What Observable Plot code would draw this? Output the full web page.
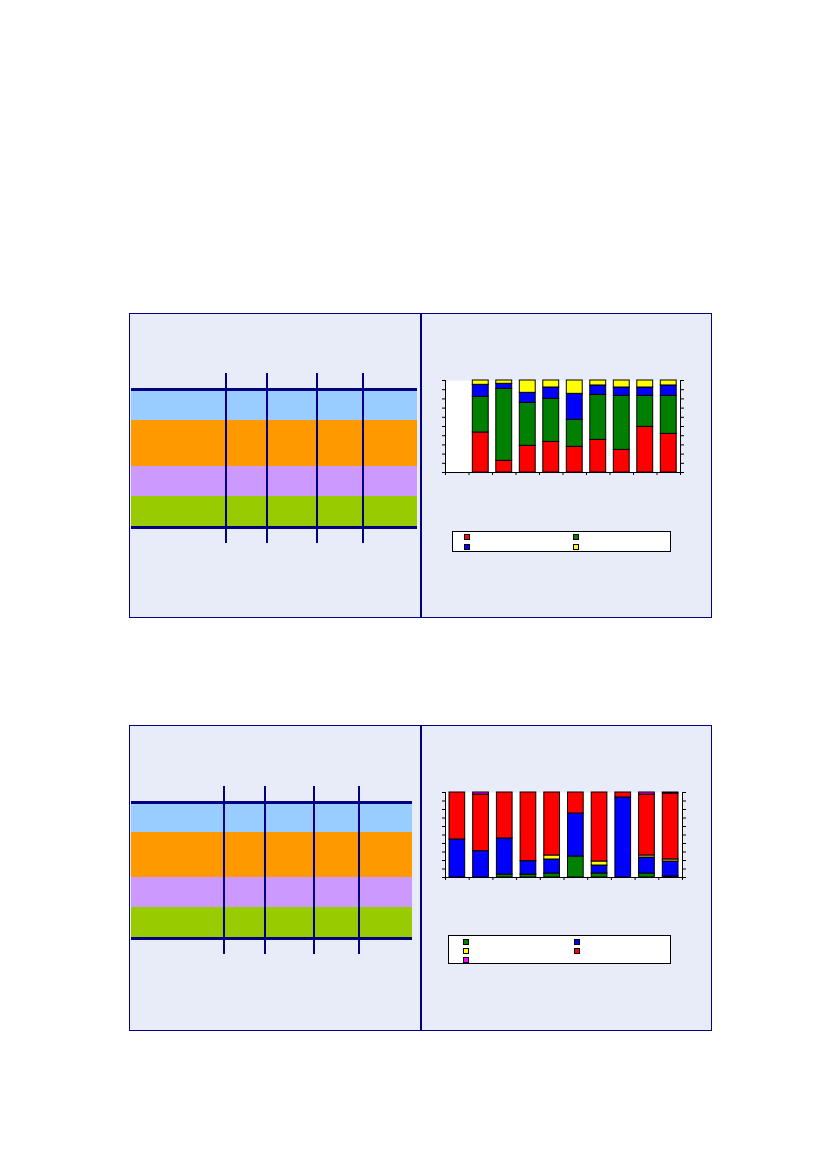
<!DOCTYPE html>
<html>
<head>
<meta charset="utf-8">
<script src="https://cdn.jsdelivr.net/npm/d3@7"></script>
<script src="https://cdn.jsdelivr.net/npm/@observablehq/plot@0.6"></script>
<style>
  html, body { margin: 0; padding: 0; background: #ffffff; overflow: hidden; }
  #page { position: relative; width: 826px; height: 1169px; background: #ffffff; font-family: "Liberation Sans", Arial, sans-serif; }
  .panel { position: absolute; box-sizing: border-box; border: 1.6px solid #000080; background: #E8EBF8; }
  .divider { position: absolute; width: 1.6px; background: #000080; }
  table.tbl { position: absolute; border-collapse: collapse; table-layout: fixed; }
  table.tbl td { padding: 0; }
  table.tbl td + td { border-left: 2.5px solid #000080; }
  table.tbl tr.first td { border-top: 3px solid #000080; }
  table.tbl tr.last td { border-bottom: 3px solid #000080; }
  .chart { position: absolute; }
  .chart svg { display: block; background: none; }
  .legend { position: absolute; box-sizing: border-box; border: 1px solid #000000; background: #ffffff; }
  .sw { position: absolute; box-sizing: border-box; width: 6px; height: 6px; border: 1px solid #000000; }
</style>
</head>
<body>
<div id="page">
  <div class="panel" style="left:129px;top:313px;width:583px;height:305px;"></div>
  <div class="divider" style="left:420px;top:313px;height:305px;"></div>
  <div class="panel" style="left:129px;top:725px;width:583px;height:306px;"></div>
  <div class="divider" style="left:420px;top:725px;height:306px;"></div>

  <table class="tbl" style="left:131px;top:373px;width:286px;">
    <colgroup><col style="width:95px"><col style="width:41px"><col style="width:50px"><col style="width:46px"><col style="width:54px"></colgroup>
    <tr style="height:16px"><td></td><td></td><td></td><td></td><td></td></tr>
    <tr class="first" style="height:31px;background:#99CCFF"><td></td><td></td><td></td><td></td><td></td></tr>
    <tr style="height:46px;background:#FF9900"><td></td><td></td><td></td><td></td><td></td></tr>
    <tr style="height:30px;background:#CC99FF"><td></td><td></td><td></td><td></td><td></td></tr>
    <tr class="last" style="height:31px;background:#99CC00"><td></td><td></td><td></td><td></td><td></td></tr>
    <tr style="height:16px"><td></td><td></td><td></td><td></td><td></td></tr>
  </table>

  <table class="tbl" style="left:131px;top:786px;width:281px;">
    <colgroup><col style="width:93px"><col style="width:41px"><col style="width:49px"><col style="width:45px"><col style="width:53px"></colgroup>
    <tr style="height:16px"><td></td><td></td><td></td><td></td><td></td></tr>
    <tr class="first" style="height:30px;background:#99CCFF"><td></td><td></td><td></td><td></td><td></td></tr>
    <tr style="height:45px;background:#FF9900"><td></td><td></td><td></td><td></td><td></td></tr>
    <tr style="height:30px;background:#CC99FF"><td></td><td></td><td></td><td></td><td></td></tr>
    <tr class="last" style="height:31px;background:#99CC00"><td></td><td></td><td></td><td></td><td></td></tr>
    <tr style="height:16px"><td></td><td></td><td></td><td></td><td></td></tr>
  </table>

  <div id="chart1" class="chart" style="left:437px;top:378px;"></div>
  <div id="chart2" class="chart" style="left:437px;top:790px;"></div>
  <div id="legend1" class="legend" style="left:452px;top:531px;width:219px;height:21px;"></div>
  <div id="legend2" class="legend" style="left:448px;top:935px;width:223px;height:29px;"></div>
</div>
<script>
// ---- Chart 1 data (percent shares, stacked bottom -> top) ----
const categories1 = ["1", "2", "3", "4", "5", "6", "7", "8", "9", "10"];
const seriesNames1 = ["Série 1", "Série 2", "Série 3", "Série 4"];
const seriesColors1 = ["#FF0000", "#008000", "#0000FF", "#FFFF00"];
const red1    = [0, 43.5, 12.7, 29.0, 33.3, 27.9, 35.5, 24.6, 49.6, 42.0];
const green1  = [0, 38.7, 78.2, 46.7, 46.8, 29.3, 48.9, 58.7, 33.7, 41.3];
const blue1   = [0, 13.1,  5.5, 10.9, 12.3, 28.3, 10.2,  9.1,  9.1, 11.3];
const yellow1 = [0,  4.7,  3.6, 13.4,  7.6, 14.5,  5.4,  7.6,  7.6,  5.4];

// ---- Chart 2 data ----
const categories2 = ["1", "2", "3", "4", "5", "6", "7", "8", "9", "10"];
const seriesNames2 = ["Série A", "Série B", "Série C", "Série D", "Série E"];
const seriesColors2 = ["#008000", "#0000FF", "#FFFF00", "#FF0000", "#FF00FF"];
const green2   = [0,    0,    3.5,  3.5,  4.7, 24.7,  4.7,  0,    4.7,  1.2];
const blue2    = [44.7, 31.0, 42.4, 15.7, 16.5, 50.6,  9.4, 94.1, 18.8, 17.6];
const yellow2  = [0,    0,    0,    0,    4.7,  0,     4.7,  0,    2.4,  2.4];
const red2     = [55.3, 66.6, 54.1, 80.8, 74.1, 24.7, 81.2,  5.9, 71.7, 77.6];
const magenta2 = [0,    2.4,  0,    0,    0,    0,     0,    0,    2.4,  1.2];

const yTicks = d3.range(0, 101, 10);

function stackRows(categories, names, valueArrays) {
  const rows = [];
  categories.forEach((c, i) => {
    let base = 0;
    names.forEach((name, k) => {
      const v = valueArrays[k][i];
      if (v > 0) {
        rows.push({cat: c, i, name, y1: base, y2: base + v});
        base += v;
      }
    });
  });
  return rows;
}

function stackedChart(categories, names, colors, valueArrays, plotW, plotH, inset) {
  const n = categories.length;
  const rows = stackRows(categories, names, valueArrays);
  const m = {top: 2, right: 8, bottom: 8, left: 8};
  return Plot.plot({
    width: plotW + m.left + m.right,
    height: plotH + m.top + m.bottom,
    marginTop: m.top, marginRight: m.right, marginBottom: m.bottom, marginLeft: m.left,
    style: {background: "none", color: "black", overflow: "visible"},
    x: {domain: [0, n]},
    y: {domain: [0, 100]},
    color: {domain: names, range: colors},
    marks: [
      Plot.frame({fill: "white", stroke: "none"}),
      Plot.rect(rows, {
        x1: "i", x2: d => d.i + 1, y1: "y1", y2: "y2",
        fill: "name", stroke: "black", strokeWidth: 1,
        insetLeft: inset, insetRight: inset
      }),
      Plot.ruleY([0], {stroke: "black"}),
      Plot.ruleX([0, n], {stroke: "black"}),
      Plot.axisX({ticks: d3.range(n + 1), tickSize: 3, tickPadding: 0, tickFormat: () => "", label: null}),
      Plot.axisY({anchor: "left", ticks: yTicks, tickSize: 3, tickPadding: 0, tickFormat: () => "", label: null}),
      Plot.axisY({anchor: "right", ticks: yTicks, tickSize: 3, tickPadding: 0, tickFormat: () => "", label: null})
    ]
  });
}

function buildLegend(el, colors, cols, xs, ys) {
  colors.forEach((c, k) => {
    const s = document.createElement("div");
    s.className = "sw";
    s.style.background = c;
    s.style.left = xs[k % cols] + "px";
    s.style.top = ys[Math.floor(k / cols)] + "px";
    el.appendChild(s);
  });
}

document.getElementById("chart1").appendChild(
  stackedChart(categories1, seriesNames1, seriesColors1, [red1, green1, blue1, yellow1], 235, 92, 3.8)
);
document.getElementById("chart2").appendChild(
  stackedChart(categories2, seriesNames2, seriesColors2, [green2, blue2, yellow2, red2, magenta2], 237, 85, 4)
);
buildLegend(document.getElementById("legend1"), seriesColors1, 2, [11, 120], [2, 12]);
buildLegend(document.getElementById("legend2"), seriesColors2, 2, [14, 125], [2.5, 11.5, 20.5]);
</script>
</body>
</html>
